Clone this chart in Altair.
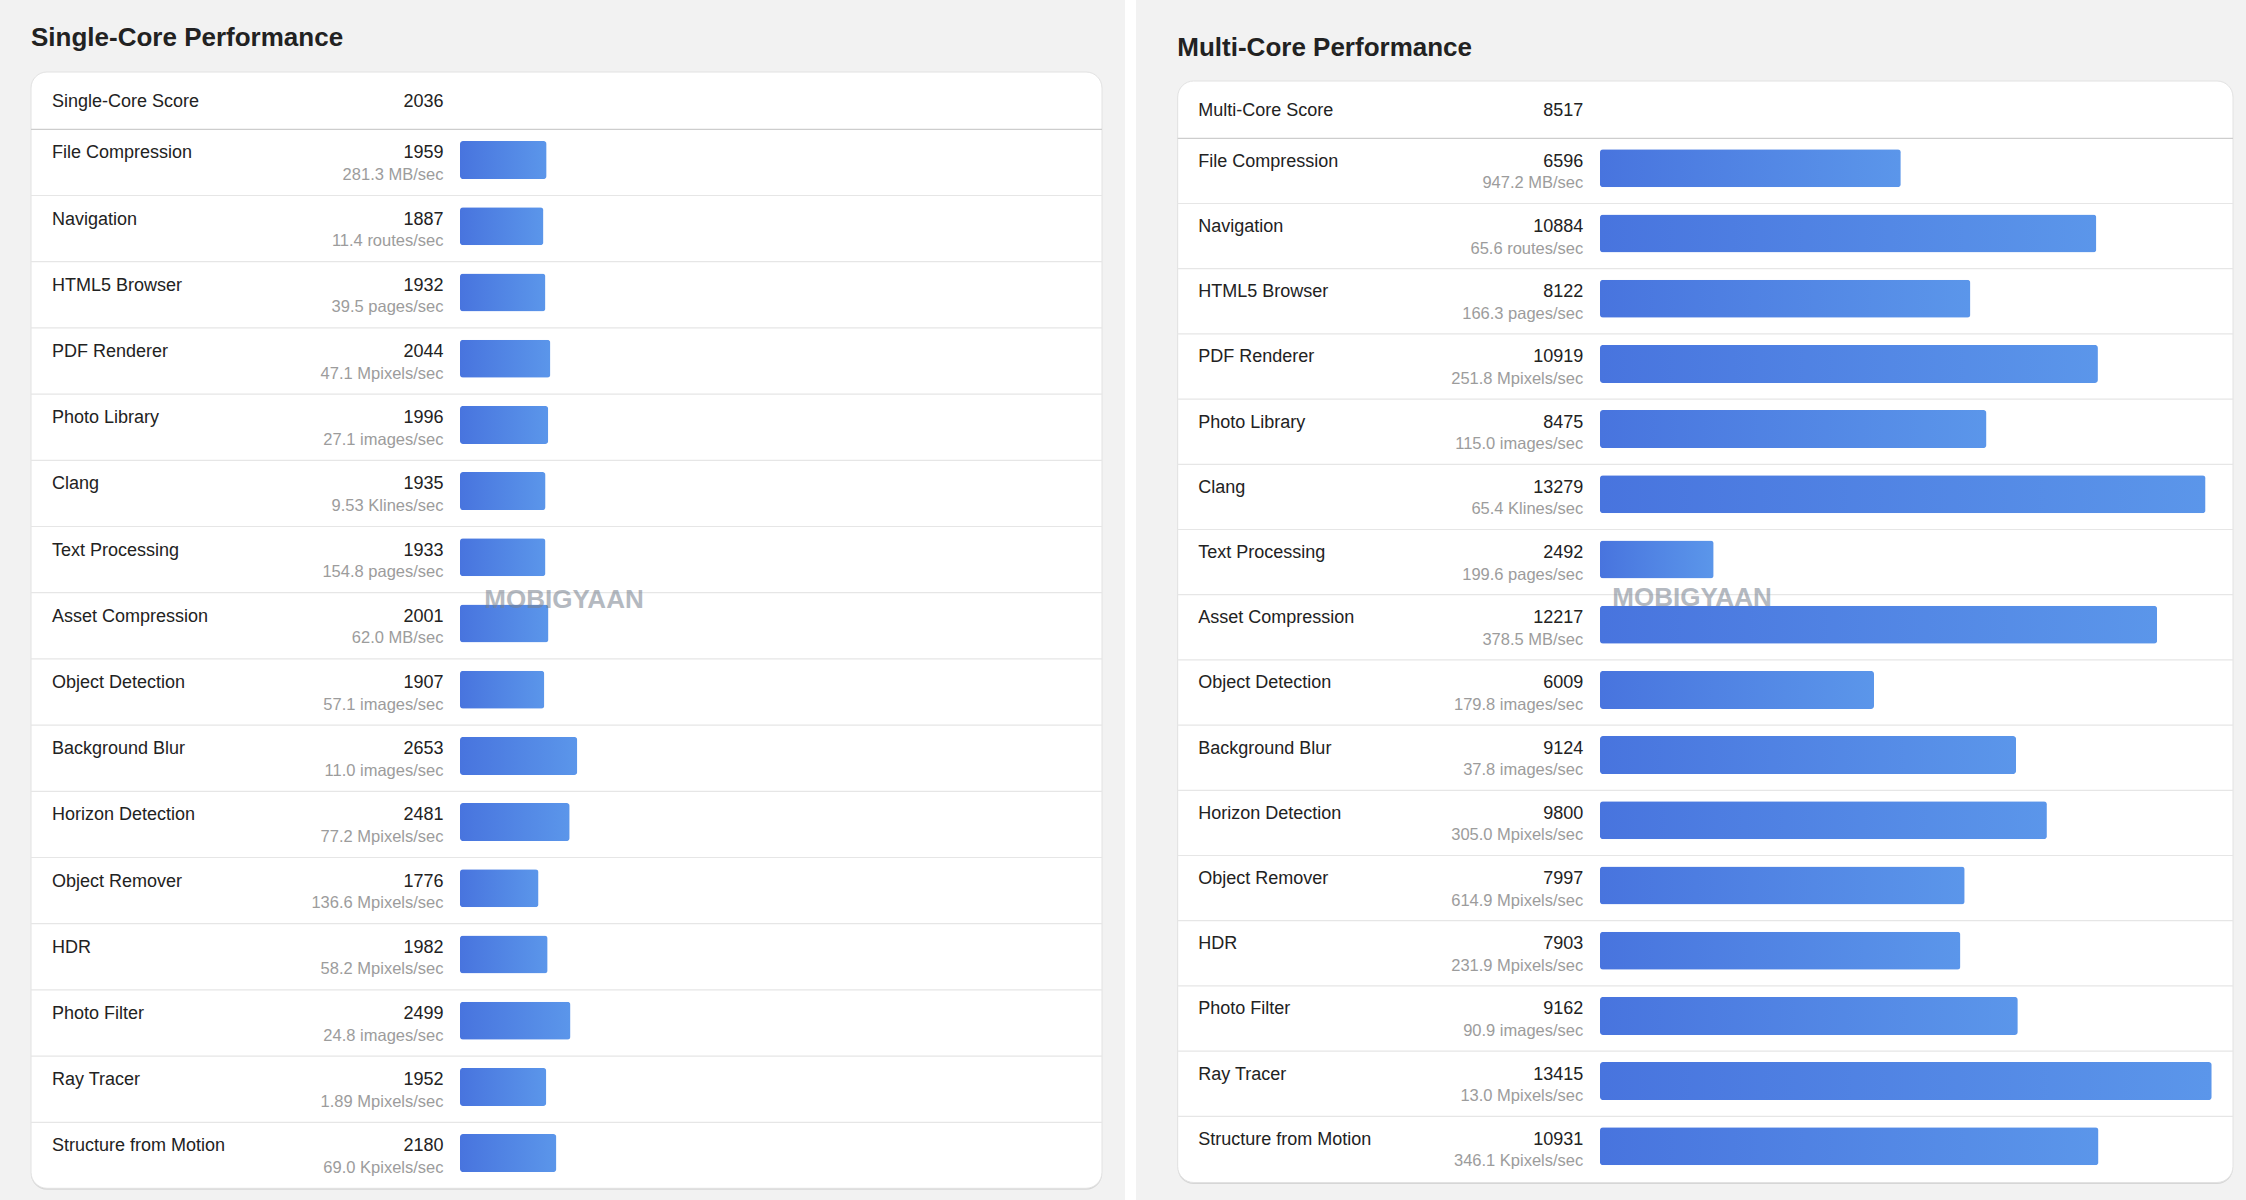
import altair as alt
import pandas as pd

# ---------------- data ----------------
benchmarks = ["File Compression", "Navigation", "HTML5 Browser", "PDF Renderer",
              "Photo Library", "Clang", "Text Processing", "Asset Compression",
              "Object Detection", "Background Blur", "Horizon Detection",
              "Object Remover", "HDR", "Photo Filter", "Ray Tracer",
              "Structure from Motion"]

single_title = "Single-Core Performance"
single_label = "Single-Core Score"
single_total = 2036
single_scores = [1959, 1887, 1932, 2044, 1996, 1935, 1933, 2001, 1907, 2653,
                 2481, 1776, 1982, 2499, 1952, 2180]
single_rates = ["281.3 MB/sec", "11.4 routes/sec", "39.5 pages/sec",
                "47.1 Mpixels/sec", "27.1 images/sec", "9.53 Klines/sec",
                "154.8 pages/sec", "62.0 MB/sec", "57.1 images/sec",
                "11.0 images/sec", "77.2 Mpixels/sec", "136.6 Mpixels/sec",
                "58.2 Mpixels/sec", "24.8 images/sec", "1.89 Mpixels/sec",
                "69.0 Kpixels/sec"]

multi_title = "Multi-Core Performance"
multi_label = "Multi-Core Score"
multi_total = 8517
multi_scores = [6596, 10884, 8122, 10919, 8475, 13279, 2492, 12217, 6009, 9124,
                9800, 7997, 7903, 9162, 13415, 10931]
multi_rates = ["947.2 MB/sec", "65.6 routes/sec", "166.3 pages/sec",
               "251.8 Mpixels/sec", "115.0 images/sec", "65.4 Klines/sec",
               "199.6 pages/sec", "378.5 MB/sec", "179.8 images/sec",
               "37.8 images/sec", "305.0 Mpixels/sec", "614.9 Mpixels/sec",
               "231.9 Mpixels/sec", "90.9 images/sec", "13.0 Mpixels/sec",
               "346.1 Kpixels/sec"]

watermark = "MOBIGYAAN"

FONT = "Liberation Sans"
H = 1200

bar_gradient = alt.Gradient(
    gradient="linear",
    stops=[alt.GradientStop(color="#4874de", offset=0),
           alt.GradientStop(color="#5b96ea", offset=1)],
    x1=0, x2=1, y1=0, y2=0,
)


def panel(title, score_label, total, scores, rates, g):
    df = pd.DataFrame({"name": benchmarks, "score": scores, "rate": rates,
                       "row": list(range(len(benchmarks)))})
    df["score_txt"] = df["score"].astype(str)
    hdr = pd.DataFrame({"name": [score_label], "score_txt": [str(total)]})
    ttl = pd.DataFrame({"t": [title]})
    wm = pd.DataFrame({"t": [watermark]})
    one = pd.DataFrame({"a": [0]})

    W = g["W"]
    xs = alt.Scale(domain=[-g["bar_x"] / g["ppp"], (W - g["bar_x"]) / g["ppp"]],
                   nice=False, padding=0)
    ys = alt.Scale(domain=[-g["row_top"] / g["pitch"], (H - g["row_top"]) / g["pitch"]],
                   reverse=True, nice=False, zero=False, padding=0)
    cx0, cx1, cy0, cy1 = g["card"]

    title_l = alt.Chart(ttl).mark_text(
        align="left", baseline="alphabetic", font=FONT, fontSize=26,
        fontWeight="bold", color="#222222"
    ).encode(x=alt.value(g["title_x"]), y=alt.value(g["title_y"]), text="t:N")

    shadow = alt.Chart(one).mark_rect(cornerRadius=16, color="#d6d6d6").encode(
        x=alt.value(cx0), x2=alt.value(cx1), y=alt.value(cy0 + 1.5), y2=alt.value(cy1 + 1.5))
    card = alt.Chart(one).mark_rect(cornerRadius=16, fill="#ffffff",
                                    stroke="#e2e2e2", strokeWidth=1).encode(
        x=alt.value(cx0), x2=alt.value(cx1), y=alt.value(cy0), y2=alt.value(cy1))

    sep_hdr = alt.Chart(df[df["row"] == 0]).mark_rule(color="#cdcdcd", strokeWidth=1.2).encode(
        y=alt.Y("row:Q", scale=ys, axis=None), x=alt.value(cx0), x2=alt.value(cx1))
    sep_rows = alt.Chart(df[df["row"] > 0]).mark_rule(color="#e6e6e6", strokeWidth=1.2).encode(
        y=alt.Y("row:Q", scale=ys, axis=None), x=alt.value(cx0), x2=alt.value(cx1))

    hdr_name = alt.Chart(hdr).mark_text(
        align="left", baseline="alphabetic", font=FONT, fontSize=18, color="#222222"
    ).encode(x=alt.value(g["lab_x"]), y=alt.value(g["hdr_y"]), text="name:N")
    hdr_score = alt.Chart(hdr).mark_text(
        align="right", baseline="alphabetic", font=FONT, fontSize=18, color="#222222"
    ).encode(x=alt.value(g["score_x"]), y=alt.value(g["hdr_y"]), text="score_txt:N")

    bars = alt.Chart(df).mark_bar(
        orient="horizontal", height=38, cornerRadius=3, yOffset=g["bar_off"],
        color=bar_gradient
    ).encode(x=alt.X("score:Q", scale=xs, axis=None),
             y=alt.Y("row:Q", scale=ys, axis=None))

    labels = alt.Chart(df).mark_text(
        align="left", baseline="alphabetic", font=FONT, fontSize=18,
        color="#222222", dy=g["lab_dy"]
    ).encode(x=alt.value(g["lab_x"]), y=alt.Y("row:Q", scale=ys, axis=None), text="name:N")
    score_t = alt.Chart(df).mark_text(
        align="right", baseline="alphabetic", font=FONT, fontSize=18,
        color="#222222", dy=g["lab_dy"]
    ).encode(x=alt.value(g["score_x"]), y=alt.Y("row:Q", scale=ys, axis=None), text="score_txt:N")
    rate_t = alt.Chart(df).mark_text(
        align="right", baseline="alphabetic", font=FONT, fontSize=16.5,
        color="#9c9c9c", dy=g["unit_dy"]
    ).encode(x=alt.value(g["score_x"]), y=alt.Y("row:Q", scale=ys, axis=None), text="rate:N")

    wm_t = alt.Chart(wm).mark_text(
        align="center", baseline="middle", font=FONT, fontSize=26,
        fontWeight="bold", color="#78818e", opacity=0.55
    ).encode(x=alt.value(g["wm"][0]), y=alt.value(g["wm"][1]), text="t:N")

    return alt.layer(title_l, shadow, card, sep_hdr, sep_rows, hdr_name, hdr_score,
                     bars, labels, score_t, rate_t, wm_t).properties(width=W, height=H)


left_geo = dict(W=1125, title_x=31, title_y=46, card=(31, 1102, 72, 1188.3),
                row_top=129.3, pitch=66.2, lab_x=52, score_x=443.5, hdr_y=106.7,
                bar_x=460, ppp=0.0442, bar_off=30.8, lab_dy=29, unit_dy=50.7,
                wm=(564, 600))
right_geo = dict(W=1110, title_x=41.3, title_y=56, card=(41.7, 1097, 81, 1182.5),
                 row_top=138.3, pitch=65.2, lab_x=62.3, score_x=447.3, hdr_y=116,
                 bar_x=464, ppp=0.0456, bar_off=30, lab_dy=28.4, unit_dy=50,
                 wm=(556, 598))

left = panel(single_title, single_label, single_total, single_scores, single_rates, left_geo)
right = panel(multi_title, multi_label, multi_total, multi_scores, multi_rates, right_geo)

chart = alt.hconcat(left, right, spacing=11, bounds="flush").properties(
    background="#ffffff", padding=0
).configure_view(fill="#f2f2f2", strokeWidth=0)

chart.save("out.html", embed_options={"renderer": "svg", "actions": False})
